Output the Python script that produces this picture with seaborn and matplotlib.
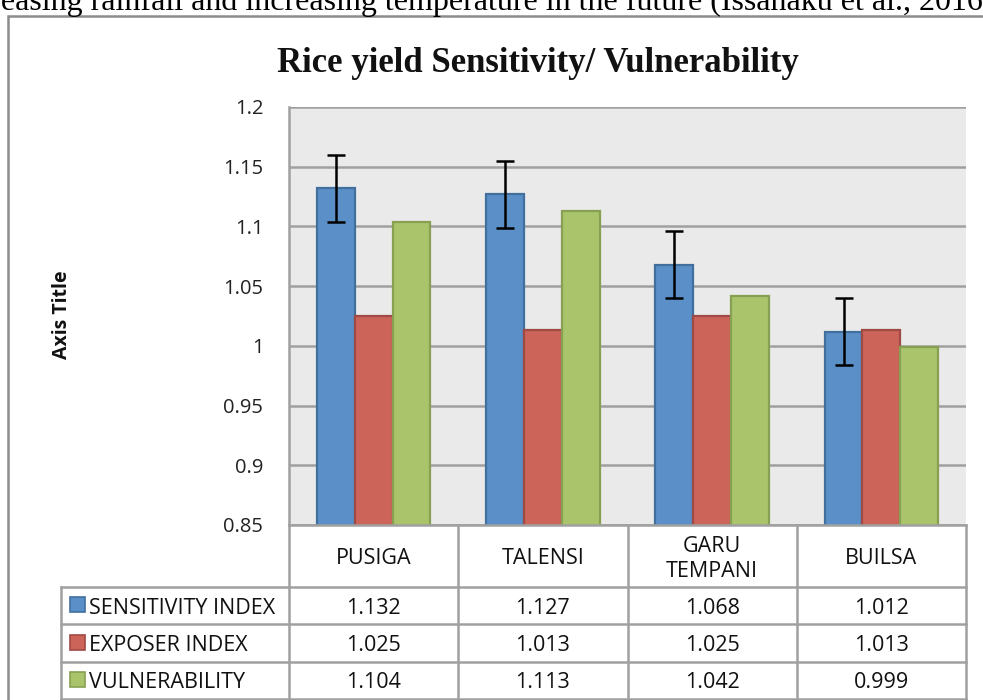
import seaborn as sns
import pandas as pd
import numpy as np
import matplotlib.pyplot as plt
from matplotlib.lines import Line2D
from matplotlib.patches import Rectangle

# data
districts = ['PUSIGA', 'TALENSI', 'GARU\nTEMPANI', 'BUILSA']
series_names = ['SENSITIVITY INDEX', 'EXPOSER INDEX', 'VULNERABILITY']
sensitivity = [1.132, 1.127, 1.068, 1.012]
exposer = [1.025, 1.013, 1.025, 1.013]
vulnerability = [1.104, 1.113, 1.042, 0.999]
sens_err = [0.028, 0.028, 0.028, 0.028]
y_ticks = [0.85, 0.9, 0.95, 1, 1.05, 1.1, 1.15, 1.2]
y_labels = ['0.85', '0.9', '0.95', '1', '1.05', '1.1', '1.15', '1.2']

colors = ['#5B8FC7', '#CC645A', '#A9C46A']
edges = ['#41709F', '#A04A44', '#87A052']

rows = []
for name, vals in zip(series_names, [sensitivity, exposer, vulnerability]):
    for d, v in zip(districts, vals):
        rows.append({'district': d, 'series': name, 'value': v})
df = pd.DataFrame(rows)

W, H = 983, 700
fig = plt.figure(figsize=(W / 100, H / 100), dpi=100)

def fx(px):
    return px / W

def fy(py):
    return 1 - py / H

x0, x1, y0, y1 = 289, 966, 107, 525
ax = fig.add_axes([fx(x0), fy(y1), fx(x1) - fx(x0), fy(y0) - fy(y1)])
ax.set_facecolor('#EAEAEA')

sns.barplot(data=df, x='district', y='value', hue='series', palette=colors,
            hue_order=series_names, order=districts, errorbar=None, saturation=1,
            width=0.67, ax=ax, legend=False, zorder=3)
for i, bar in enumerate(ax.patches[:12]):
    k = i // 4
    bar.set_edgecolor(edges[k])
    bar.set_linewidth(1.6)

# error bars on sensitivity bars
sens_bars = ax.patches[:4]
ax.errorbar([b.get_x() + b.get_width() / 2 for b in sens_bars], sensitivity,
            yerr=sens_err, fmt='none', ecolor='black', elinewidth=1.8,
            capsize=6.5, capthick=1.8, zorder=4)

ax.set_ylim(0.85, 1.2)
ax.set_xlim(-0.5, 3.5)
ax.set_yticks(y_ticks)
ax.set_yticklabels(y_labels, fontsize=14.5, family='Open Sans', color='#222222')
ax.tick_params(axis='y', length=0, pad=18.5)
ax.tick_params(axis='x', length=0, labelbottom=False)
ax.grid(axis='y', color='#A0A0A0', linewidth=1.8, zorder=1)
ax.set_axisbelow(True)
ax.set_xlabel('')
ax.set_ylabel('')
for s in ['top', 'right', 'bottom']:
    ax.spines[s].set_visible(False)
ax.spines['left'].set_color('#A0A0A0')
ax.spines['left'].set_linewidth(1.8)

# outer chart border
fig.add_artist(Rectangle((fx(8), fy(720)), fx(1000) - fx(8), fy(16) - fy(720),
                         transform=fig.transFigure, fill=False,
                         edgecolor='#8C8C8C', linewidth=1.8))

# data table below the plot
line_kw = dict(color='#A0A0A0', linewidth=1.8, transform=fig.transFigure)
col_edges = [x0 + (x1 - x0) * i / 4 for i in range(5)]
row_edges = [525, 587, 624, 662, 699]
lab_x = 61
for yy in row_edges[1:]:
    fig.add_artist(Line2D([fx(lab_x), fx(x1)], [fy(yy), fy(yy)], **line_kw))
fig.add_artist(Line2D([fx(x0), fx(x1)], [fy(row_edges[0]), fy(row_edges[0])], **line_kw))
for xx in col_edges:
    fig.add_artist(Line2D([fx(xx), fx(xx)], [fy(row_edges[0]), fy(row_edges[-1])], **line_kw))
fig.add_artist(Line2D([fx(lab_x), fx(lab_x)], [fy(row_edges[1]), fy(row_edges[-1])], **line_kw))

tfs = 15.5
txt_kw = dict(family='Open Sans', fontsize=tfs, color='#111111',
              ha='center', va='center', transform=fig.transFigure)
for i, d in enumerate(districts):
    cx = (col_edges[i] + col_edges[i + 1]) / 2
    fig.text(fx(cx), fy((row_edges[0] + row_edges[1]) / 2 + 3), d, linespacing=1.2, **txt_kw)

for r, (name, vals) in enumerate(zip(series_names, [sensitivity, exposer, vulnerability])):
    cy = (row_edges[r + 1] + row_edges[r + 2]) / 2
    fig.add_artist(Rectangle((fx(70), fy(cy + 6.5)), fx(85) - fx(70), fy(cy - 8.5) - fy(cy + 6.5),
                             transform=fig.transFigure, facecolor=colors[r],
                             edgecolor=edges[r], linewidth=1.2))
    fig.text(fx(89), fy(cy + 2.5), name, family='Open Sans', fontsize=tfs, color='#111111',
             ha='left', va='center', transform=fig.transFigure)
    for i, v in enumerate(vals):
        cx = (col_edges[i] + col_edges[i + 1]) / 2
        fig.text(fx(cx), fy(cy + 2.5), f'{v:.3f}', **txt_kw)

# titles
fig.text(fx(538), fy(63), 'Rice yield Sensitivity/ Vulnerability', family='Liberation Serif',
         fontweight='bold', fontsize=25, ha='center', va='center', color='#111111')
fig.text(fx(62), fy(315), 'Axis Title', family='Open Sans', fontweight='bold', fontsize=14,
         rotation=90, ha='center', va='center', color='#111111')
fig.text(fx(-24), fy(10), 'creasing rainfall and increasing temperature in the future (Issahaku et al., 2016)',
         family='Liberation Serif', fontsize=23, ha='left', va='baseline', color='black')

fig.savefig('out.png', dpi=100)
